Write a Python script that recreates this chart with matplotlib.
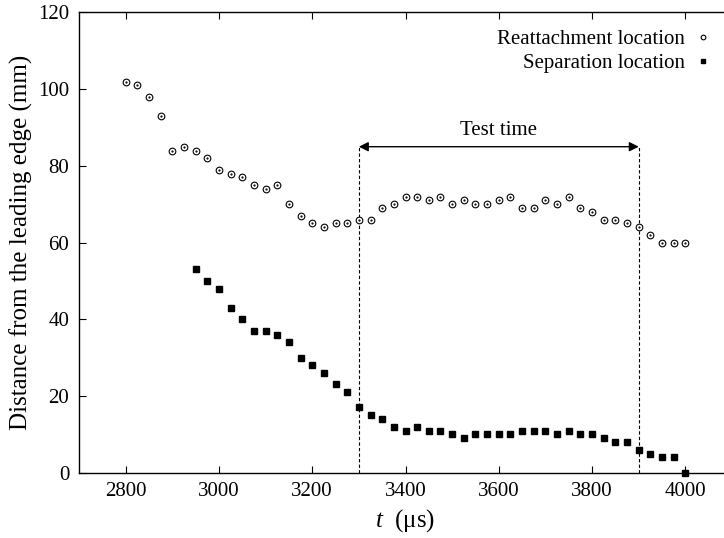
import matplotlib.pyplot as plt

plt.rcParams['font.family'] = ['Liberation Serif', 'DejaVu Serif']
plt.rcParams['mathtext.fontset'] = 'custom'
plt.rcParams['mathtext.it'] = 'Liberation Serif:italic'
plt.rcParams['mathtext.rm'] = 'Liberation Serif'

# time (microseconds) and positions (mm)
t_reattach = [2800, 2825, 2850, 2875, 2900, 2925, 2950, 2975, 3000, 3025,
              3050, 3075, 3100, 3125, 3150, 3175, 3200, 3225, 3250, 3275,
              3300, 3325, 3350, 3375, 3400, 3425, 3450, 3475, 3500, 3525,
              3550, 3575, 3600, 3625, 3650, 3675, 3700, 3725, 3750, 3775,
              3800, 3825, 3850, 3875, 3900, 3925, 3950, 3975, 4000]
reattach = [102, 101, 98, 93, 84, 85, 84, 82, 79, 78,
            77, 75, 74, 75, 70, 67, 65, 64, 65, 65,
            66, 66, 69, 70, 72, 72, 71, 72, 70, 71,
            70, 70, 71, 72, 69, 69, 71, 70, 72, 69,
            68, 66, 66, 65, 64, 62, 60, 60, 60]

t_sep = [2950, 2975, 3000, 3025, 3050, 3075, 3100, 3125, 3150, 3175,
         3200, 3225, 3250, 3275, 3300, 3325, 3350, 3375, 3400, 3425,
         3450, 3475, 3500, 3525, 3550, 3575, 3600, 3625, 3650, 3675,
         3700, 3725, 3750, 3775, 3800, 3825, 3850, 3875, 3900, 3925,
         3950, 3975, 4000]
separation = [53, 50, 48, 43, 40, 37, 37, 36, 34, 30,
              28, 26, 23, 21, 17, 15, 14, 12, 11, 12,
              11, 11, 10, 9, 10, 10, 10, 10, 11, 11,
              11, 10, 11, 10, 10, 9, 8, 8, 6, 5,
              4, 4, 0]

test_start, test_end, test_level = 3300, 3900, 85

fig = plt.figure(figsize=(7.24, 5.38), dpi=100)
ax = fig.add_axes([0.1091, 0.1214, 0.902, 0.8554])

ax.plot(t_reattach, reattach, 'o', ms=4.8, mfc='white', mec='black', mew=0.8,
        label='Reattachment location', clip_on=False, zorder=3)
ax.plot(t_reattach, reattach, '.', ms=1.2, color='black', zorder=4)
ax.plot(t_sep, separation, 's', ms=4.8, color='black',
        label='Separation location', clip_on=False, zorder=3)

# test window
for tx in (test_start, test_end):
    ax.plot([tx, tx], [0, test_level], '--', color='black', lw=0.8, dashes=(3, 2))
ax.annotate('', xy=(test_start, test_level), xytext=(test_end, test_level),
            arrowprops=dict(arrowstyle='<|-|>', color='black', lw=1.0,
                            mutation_scale=14, shrinkA=0, shrinkB=0))
ax.text((test_start + test_end) / 2, test_level + 1.8, 'Test time',
        ha='center', va='bottom', fontsize=15)

ax.set_xlim(2700, 4100)
ax.set_ylim(0, 120)
ax.set_xticks(range(2800, 4001, 200))
ax.set_yticks(range(0, 121, 20))
ax.tick_params(direction='in', top=True, right=True, length=5, width=0.8,
               labelsize=15, pad=7)
for s in ax.spines.values():
    s.set_linewidth(1.0)
ax.spines['right'].set_visible(False)

ax.set_xlabel(r'$t$  (μs)', fontsize=18, labelpad=4)
ax.set_ylabel('Distance from the leading edge (mm)', fontsize=18, labelpad=4)

leg = ax.legend(loc='upper right', bbox_to_anchor=(0.985, 0.99), frameon=False,
                markerfirst=False, fontsize=15, handlelength=0.6,
                handletextpad=0.6, labelspacing=0.22, markerscale=0.7,
                borderaxespad=0.2)
for txt in leg.get_texts():
    txt.set_ha('right')

fig.savefig('out.png', dpi=100)
